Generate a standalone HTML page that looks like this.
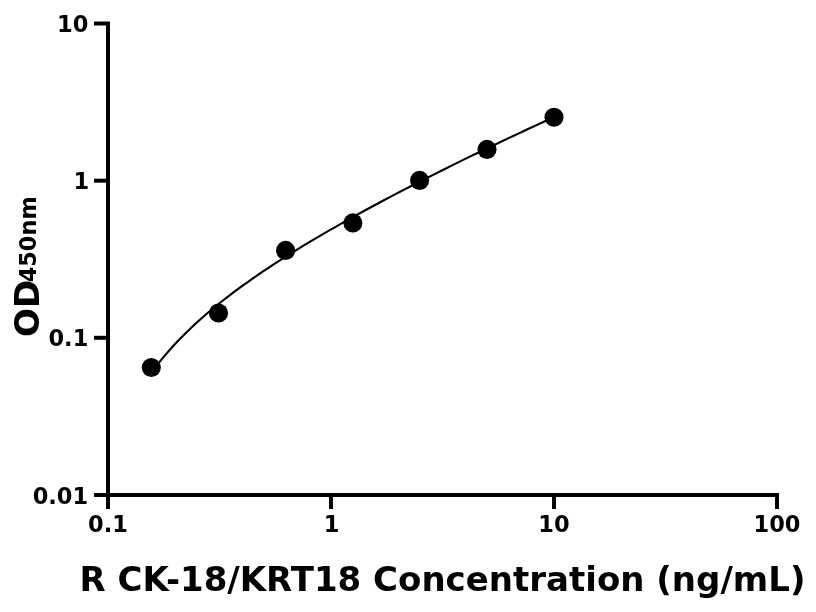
<!DOCTYPE html>
<html><head><meta charset="utf-8"><title>Standard curve</title>
<style>
html,body{margin:0;padding:0;background:#fff;}
body{width:816px;height:612px;overflow:hidden;}
svg{display:block;}
text{font-family:"DejaVu Sans","Liberation Sans",sans-serif;font-weight:bold;fill:#000;}
.tick{font-size:22.5px;}
.title{font-size:34px;}
</style></head><body>
<svg width="816" height="612" viewBox="0 0 816 612">
<rect width="816" height="612" fill="#fff"/>
<g stroke="#000" stroke-width="4" fill="none" stroke-linecap="butt">
<path d="M94 23.5 H108 V495"/>
<path d="M94 180.7 H108"/>
<path d="M94 337.8 H108"/>
<path d="M94 495 H777 V509"/>
<path d="M108 495 V509"/>
<path d="M331 495 V509"/>
<path d="M554 495 V509"/>
</g>
<path d="M151.2 373.1 L156.3 366.2 L161.4 359.7 L166.5 353.6 L171.6 347.8 L176.7 342.3 L181.8 337.0 L186.9 331.9 L192.0 327.0 L197.1 322.3 L202.2 317.7 L207.3 313.3 L212.4 309.0 L217.5 304.9 L222.6 300.8 L227.7 296.8 L232.8 292.9 L237.9 289.1 L243.0 285.4 L248.1 281.8 L253.2 278.2 L258.3 274.7 L263.4 271.2 L268.5 267.8 L273.6 264.4 L278.7 261.1 L283.8 257.9 L288.9 254.7 L294.0 251.5 L299.1 248.3 L304.2 245.2 L309.3 242.2 L314.4 239.1 L319.5 236.1 L324.6 233.2 L329.7 230.2 L334.8 227.3 L339.9 224.4 L345.0 221.5 L350.1 218.7 L355.1 215.8 L360.2 213.0 L365.3 210.3 L370.4 207.5 L375.5 204.8 L380.6 202.0 L385.7 199.3 L390.8 196.6 L395.9 193.9 L401.0 191.3 L406.1 188.6 L411.2 186.0 L416.3 183.4 L421.4 180.8 L426.5 178.2 L431.6 175.6 L436.7 173.1 L441.8 170.5 L446.9 168.0 L452.0 165.4 L457.1 162.9 L462.2 160.4 L467.3 157.9 L472.4 155.4 L477.5 153.0 L482.6 150.5 L487.7 148.1 L492.8 145.6 L497.9 143.2 L503.0 140.8 L508.1 138.4 L513.2 136.0 L518.3 133.6 L523.4 131.2 L528.5 128.8 L533.6 126.5 L538.7 124.1 L543.8 121.8 L548.9 119.4 L554.0 117.1" fill="none" stroke="#000" stroke-width="2.1"/>
<g fill="#000">
<circle cx="151.3" cy="367.5" r="9.55"/>
<circle cx="218.5" cy="313.05" r="9.55"/>
<circle cx="285.6" cy="250.4" r="9.55"/>
<circle cx="352.9" cy="222.9" r="9.55"/>
<circle cx="419.6" cy="180.4" r="9.55"/>
<circle cx="487.0" cy="149.4" r="9.55"/>
<circle cx="554.0" cy="117.2" r="9.55"/>
</g>
<g class="tick" text-anchor="end">
<text x="88.3" y="32.1">10</text>
<text x="89.2" y="189.0">1</text>
<text x="88.3" y="346.3">0.1</text>
<text x="88.2" y="503.7">0.01</text>
</g>
<g class="tick" text-anchor="middle">
<text x="108" y="531.5">0.1</text>
<text x="331.5" y="531.5">1</text>
<text x="554" y="531.5">10</text>
<text x="777" y="531.5">100</text>
</g>
<text class="title" text-anchor="middle" x="442.5" y="590.5">R CK-18/KRT18 Concentration (ng/mL)</text>
<text transform="translate(38.8 337) rotate(-90)" class="title">OD</text>
<text transform="translate(36.4 282.3) rotate(-90)" font-size="22.4px">450nm</text>
</svg>
</body></html>
